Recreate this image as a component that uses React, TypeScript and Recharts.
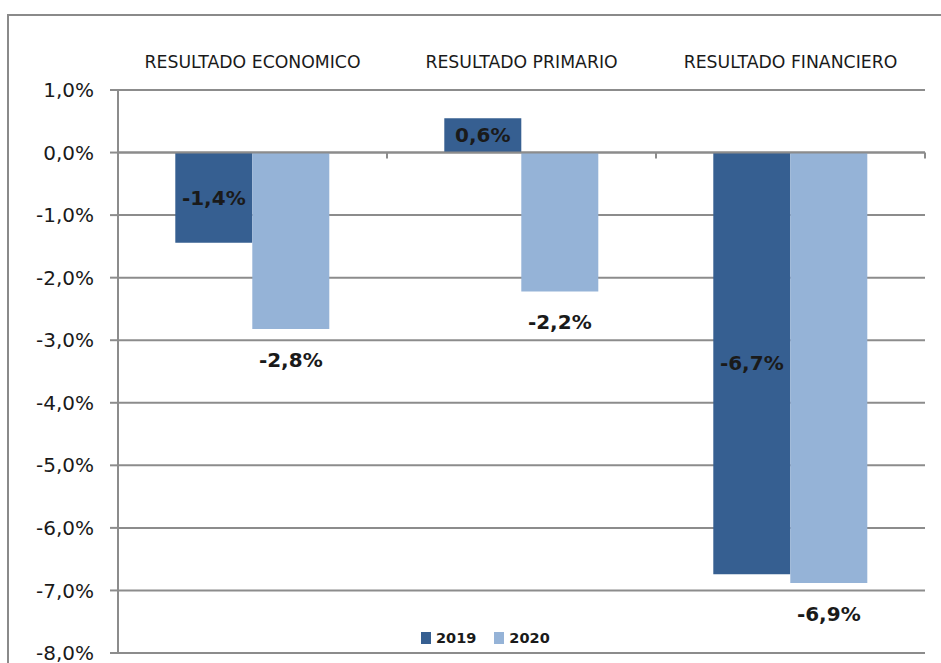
import React from 'react';
import { BarChart, Bar, XAxis, YAxis, CartesianGrid, Legend, LabelList, ReferenceLine } from 'recharts';

const categories = ['RESULTADO ECONOMICO', 'RESULTADO PRIMARIO', 'RESULTADO FINANCIERO'];
const values2019 = [-1.44, 0.55, -6.74];
const values2020 = [-2.82, -2.22, -6.88];
const yTicks = [1, 0, -1, -2, -3, -4, -5, -6, -7, -8];

const COLOR_2019 = '#365F91';
const COLOR_2020 = '#95B3D7';
const GRID = '#8c8c8c';
const FONT = '"DejaVu Sans", sans-serif';

const data = categories.map((name, i) => ({
    name,
    y2019: values2019[i],
    y2020: values2020[i],
}));

const pct = (v: number) => (Math.round(v * 10) / 10).toFixed(1).replace('.', ',') + '%';

// 2019 labels sit in the middle of the bar
const InsideLabel = (props: any) => {
    const { x, y, width, height, value } = props;
    const top = Math.min(y, y + height);
    const h = Math.abs(height);
    return (
        <text x={x + width / 2} y={top + h / 2} textAnchor="middle" dominantBaseline="central"
            fontFamily={FONT} fontSize={20} fontWeight="bold" fill="#1a1a1a">
            {pct(value)}
        </text>
    );
};

// 2020 labels hang under the end of the bar
const BelowLabel = (props: any) => {
    const { x, y, width, height, value } = props;
    const bottom = Math.max(y, y + height);
    return (
        <text x={x + width / 2} y={bottom + 31} textAnchor="middle" dominantBaseline="central"
            fontFamily={FONT} fontSize={20} fontWeight="bold" fill="#1a1a1a">
            {pct(value)}
        </text>
    );
};

// zero line with the small category boundary ticks hanging from it
const ZeroAxis = (props: any) => {
    const { x1, y1, x2, y2 } = props;
    const n = categories.length;
    return (
        <g>
            <line x1={x1} y1={y1} x2={x2} y2={y2} stroke={GRID} strokeWidth={2} />
            {Array.from({ length: n + 1 }, (_, k) => {
                const tx = x1 + (k * (x2 - x1)) / n;
                return <line key={k} x1={tx} y1={y1} x2={tx} y2={y1 + 6} stroke={GRID} strokeWidth={2} />;
            })}
        </g>
    );
};

const LegendBox = () => (
    <div style={{ display: 'flex', alignItems: 'center', fontFamily: FONT, fontSize: 14.5, fontWeight: 'bold', color: '#1a1a1a' }}>
        <span style={{ width: 10, height: 12, background: COLOR_2019, display: 'inline-block', marginRight: 5 }} />
        <span style={{ marginRight: 18 }}>2019</span>
        <span style={{ width: 10, height: 12, background: COLOR_2020, display: 'inline-block', marginRight: 5 }} />
        <span>2020</span>
    </div>
);

export default function App() {
    return (
        <div style={{ position: 'fixed', left: 0, top: 0, width: 941, height: 663, background: '#fff', overflow: 'hidden' }}>
            <div style={{ position: 'absolute', left: 7, top: 14, width: 980, height: 700, border: '2px solid #8a8a8a' }} />
            <div style={{ position: 'absolute', left: 0, top: 0 }}>
                <BarChart
                    width={941}
                    height={663}
                    data={data}
                    margin={{ top: 50, right: 16, bottom: 10, left: 0 }}
                    barCategoryGap="21.3%"
                    barGap={0}
                >
                    <CartesianGrid vertical={false} stroke={GRID} strokeWidth={2} />
                    <XAxis
                        dataKey="name"
                        orientation="top"
                        height={40}
                        axisLine={false}
                        tickLine={false}
                        tickSize={0}
                        tickMargin={22}
                        interval={0}
                        tick={{ fontFamily: FONT, fontSize: 17.3, fill: '#1a1a1a' }}
                    />
                    <YAxis
                        width={118}
                        domain={[-8, 1]}
                        ticks={yTicks}
                        interval={0}
                        tickFormatter={pct}
                        axisLine={{ stroke: GRID, strokeWidth: 2 }}
                        tickLine={{ stroke: GRID, strokeWidth: 2 }}
                        tickSize={8}
                        tickMargin={16}
                        tick={{ fontFamily: FONT, fontSize: 20, fill: '#1a1a1a' }}
                    />
                    <Legend
                        layout="horizontal"
                        verticalAlign="middle"
                        align="center"
                        content={<LegendBox />}
                        wrapperStyle={{ top: 630, left: 421, width: 160, height: 18 }}
                    />
                    <Bar dataKey="y2019" name="2019" fill={COLOR_2019} isAnimationActive={false}>
                        <LabelList dataKey="y2019" content={<InsideLabel />} />
                    </Bar>
                    <Bar dataKey="y2020" name="2020" fill={COLOR_2020} isAnimationActive={false}>
                        <LabelList dataKey="y2020" content={<BelowLabel />} />
                    </Bar>
                    <ReferenceLine y={0} shape={<ZeroAxis />} />
                </BarChart>
            </div>
        </div>
    );
}
